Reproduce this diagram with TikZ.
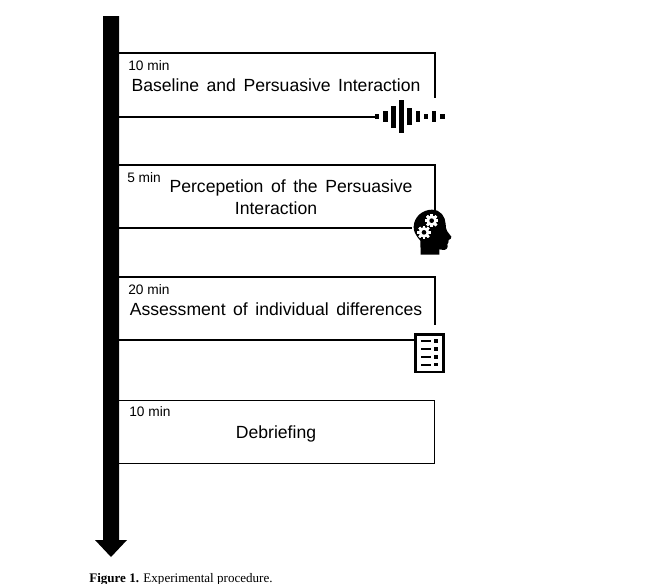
\documentclass[tikz,border=0pt]{standalone}
\usepackage{fontspec}
\setmainfont{Liberation Sans}
\newfontfamily\captionserif{Liberation Serif}
\usetikzlibrary{positioning, calc}
\newcommand{\gearicon}[2]{%
	\foreach \ang in {0,45,...,315} {
		\fill[white, rotate around={\ang:(#1,#2)}] ($(#1,#2)+(-3.8,-20)$) rectangle ($(#1,#2)+(3.8,20)$);
	}
	\fill[white] (#1,#2) circle (16);
	\fill[black] (#1,#2) circle (7);
}

\begin{document}
\begin{tikzpicture}[
			x=0.75pt, y=-0.75pt,
			stagetitle/.style={font=\fontsize{13.2pt}{16.5pt}\selectfont, execute at begin node={\spaceskip=0.43em\relax}, align=center, inner sep=0pt},
			stagetime/.style={font=\fontsize{10.3pt}{12pt}\selectfont, anchor=west, inner sep=0pt},
			stageline/.style={draw=black, line width=0.85pt},
			stagebox/.style={stageline, minimum width=237.2pt, minimum height=47pt, inner sep=0pt}
			]
			\useasboundingbox (0,0) rectangle (653,583);
			
			% 1. TIME AXIS (Left)
			\fill[black] (103,16) -- (119,16) -- (119,540) -- (127,540) -- (111,557) -- (95,540) -- (103,540) -- cycle;
			
			% 2. BASELINE (Top)
			\coordinate (baseTop) at (118,53);
			\coordinate (baseLow) at (375,117);
			\draw[stageline] (baseTop) -- (435,53) -- (435,98);
			\draw[stageline] (118,117) -- (baseLow);
			\node[stagetime] (baseTime) at (128,66) {10 min};
			\node[stagetitle] (baseText) at (276,85) {Baseline and Persuasive Interaction};
			\foreach \px/\pw/\ph in {377/4.5/5, 385.7/4.5/11, 393.7/4.5/22, 401.7/5/33, 409.7/4.5/17, 418/4.5/11, 426/4.5/5, 434/4.5/11, 442.7/4.5/5} {
				\fill[black] (\px-\pw/2,116.7-\ph/2) rectangle (\px+\pw/2,116.7+\ph/2);
			}
			
			% 3. PERCEPTION (Second)
			\coordinate (percTop) at (118,165);
			\coordinate (percLow) at (412,228);
			\draw[stageline] (percTop) -- (435,165) -- (435,211);
			\draw[stageline] (118,228) -- (percLow);
			\node[stagetime] (percTime) at (127,178) {5 min};
			\node[stagetitle] (percTextA) at (291,187.5) {Percepetion of the Persuasive};
			\node[stagetitle] (percTextB) at (276,208) {Interaction};
			\begin{scope}[shift={(400,200)}, x=0.25pt, y=-0.25pt]
				\fill[black] (62,164) -- (61,122) .. controls (46,105) and (40,92) .. (41,80)
				.. controls (42,50) and (68,29) .. (96,29)
				.. controls (122,29) and (136,50) .. (137,72)
				.. controls (137,80) and (138,88) .. (141,93)
				-- (154,110) .. controls (156,115) and (150,118) .. (146,120)
				-- (145,128) -- (142,133) -- (143,140)
				.. controls (141,152) and (130,150) .. (118,148) -- (118,164) -- cycle;
				\gearicon{95}{62}
				\gearicon{72}{97}
			\end{scope}
			
			% 4. ASSESSMENT (Third)
			\coordinate (assessTop) at (118,277);
			\coordinate (assessLow) at (415,340);
			\draw[stageline] (assessTop) -- (435,277) -- (435,325);
			\draw[stageline] (118,340) -- (assessLow);
			\node[stagetime] (assessTime) at (128,290) {20 min};
			\node[stagetitle] (assessText) at (276,309) {Assessment of individual differences};
			\draw[black, line width=1.6pt] (415.5,334.5) rectangle (443.5,372);
			\foreach \py in {340.7,349,357,364.5} {
				\fill[black] (421,\py-1) rectangle (431,\py+1);
				\fill[black] (434,\py-1.8) rectangle (438,\py+1.8);
			}
			
			% 5. DEBRIEFING (Bottom)
			\node[stagebox, anchor=north west] (debrief) at (118,400) {};
			\node[stagetime] (debriefTime) at (129,412) {10 min};
			\node[stagetitle] (debriefText) at (276,434) {Debriefing};
			
			% 6. CAPTION
			\node[font=\captionserif\fontsize{9.8pt}{10pt}\selectfont, anchor=west, inner sep=0pt] (figcaption) at (89,579) {\textbf{Figure 1.} Experimental procedure.};
		\end{tikzpicture}
\end{document}
